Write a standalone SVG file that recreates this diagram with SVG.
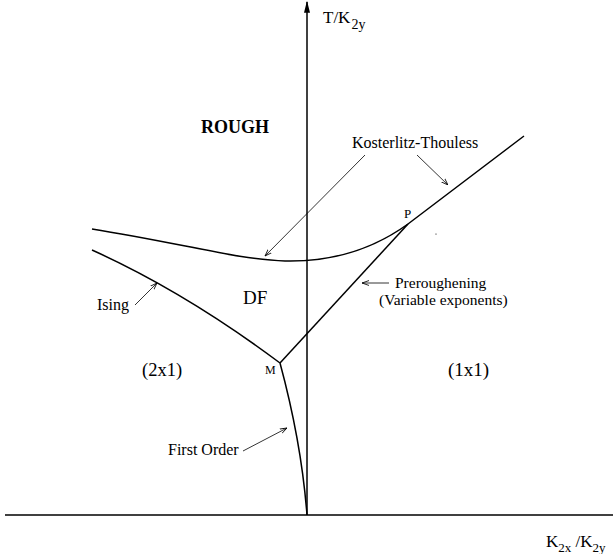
<svg xmlns="http://www.w3.org/2000/svg" width="613" height="554" viewBox="0 0 613 554">
<defs>
<marker id="ah" viewBox="0 0 10 10" refX="10" refY="5" markerWidth="7" markerHeight="7" orient="auto" markerUnits="userSpaceOnUse">
<path d="M0,1.5 L10,5 L0,8.5" fill="none" stroke="#000" stroke-width="1.2"/>
</marker>
<marker id="axh" viewBox="0 0 10 10" refX="9" refY="5" markerWidth="12" markerHeight="12" orient="auto" markerUnits="userSpaceOnUse">
<path d="M0,2.5 L10,5 L0,7.5 Z" fill="#000"/>
</marker>
</defs>
<style>
.t{font-family:"Liberation Serif","Times New Roman",serif;fill:#000}
.c{fill:none;stroke:#000;stroke-width:1.5}
.a{fill:none;stroke:#000;stroke-width:0.8;marker-end:url(#ah)}
</style>
<rect width="613" height="554" fill="#fff"/>
<g id="axes">
<line x1="5" y1="515" x2="613" y2="515" stroke="#000" stroke-width="1.5"/>
<line x1="307" y1="515" x2="307" y2="2" stroke="#000" stroke-width="1.5" marker-end="url(#axh)"/>
</g>
<g id="connectors">
<path class="c" d="M92,229 C180,243 240,260 285,261 C330,262 372,250 408,224 L524,136"/>
<path class="c" d="M92,250 Q185,292 280,363"/>
<path class="c" d="M280,363 L408,224"/>
<path class="c" d="M280,363 C290,400 302,450 307,515"/>
<line class="a" x1="365" y1="155" x2="265" y2="256"/>
<line class="a" x1="417" y1="155" x2="448" y2="185"/>
<line class="a" x1="135" y1="305" x2="157" y2="283"/>
<line class="a" x1="389" y1="283" x2="362" y2="283"/>
<line class="a" x1="243" y1="451" x2="287" y2="428"/>
<circle cx="436" cy="234" r="0.6" fill="#000"/>
</g>
<g id="yaxis-label"><text class="t" x="323" y="23" font-size="17">T/K<tspan font-size="14" dx="1" dy="6">2y</tspan></text></g>
<g id="xaxis-label"><text class="t" x="546" y="547" font-size="17">K<tspan font-size="13" dy="5">2x</tspan><tspan dy="-5"> /K</tspan><tspan font-size="13" dy="5">2y</tspan></text></g>
<g id="rough"><text class="t" x="201" y="133" font-size="18" font-weight="bold">ROUGH</text></g>
<g id="kt"><text class="t" x="352" y="148" font-size="16">Kosterlitz-Thouless</text></g>
<g id="P"><text class="t" x="404" y="218" font-size="13">P</text></g>
<g id="DF"><text class="t" x="243" y="304" font-size="19">DF</text></g>
<g id="ising"><text class="t" x="97" y="310" font-size="16">Ising</text></g>
<g id="preroughening"><text class="t" x="395" y="288" font-size="15.5">Preroughening</text><text class="t" x="379" y="305" font-size="15.5">(Variable exponents)</text></g>
<g id="2x1"><text class="t" x="142" y="376" font-size="18.5">(2x1)</text></g>
<g id="M"><text class="t" x="265" y="374" font-size="12">M</text></g>
<g id="1x1"><text class="t" x="448" y="376" font-size="19">(1x1)</text></g>
<g id="first-order"><text class="t" x="168" y="455" font-size="16">First Order</text></g>
</svg>
